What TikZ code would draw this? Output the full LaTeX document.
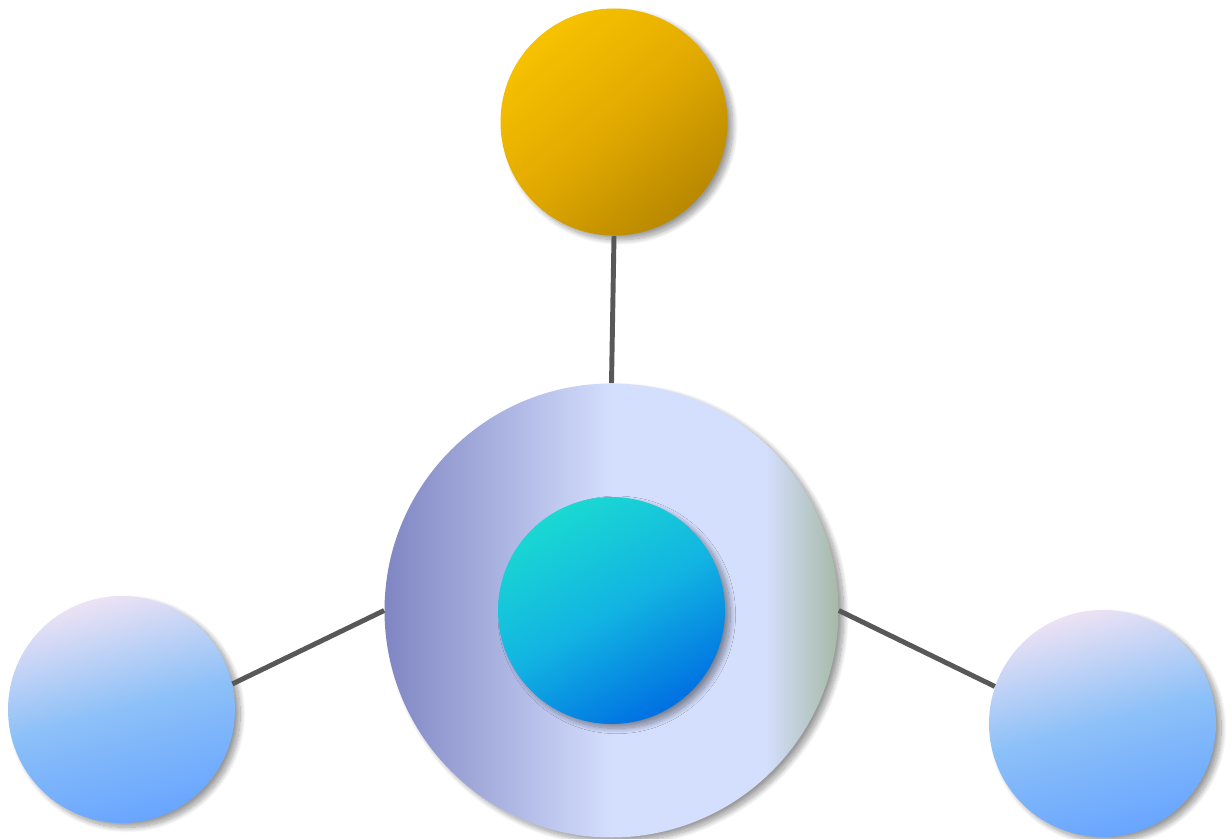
\documentclass[tikz,border=0pt]{standalone}
\usetikzlibrary{shadows.blur}

\definecolor{goldhi}{HTML}{F6C200}
\definecolor{goldmid}{HTML}{E2AA00}
\definecolor{goldlo}{HTML}{B88800}
\definecolor{ringleft}{HTML}{7F86C3}
\definecolor{ringmid}{HTML}{D4DEFD}
\definecolor{ringright}{HTML}{A6B9A6}
\definecolor{corehi}{HTML}{1AD8D2}
\definecolor{coremid}{HTML}{12B4E2}
\definecolor{corelo}{HTML}{0070E2}
\definecolor{skyhi}{HTML}{ECE2F4}
\definecolor{skymid}{HTML}{8CC0F8}
\definecolor{skylo}{HTML}{68A5FF}
\definecolor{linkgray}{HTML}{585858}

\pgfdeclarehorizontalshading{ringshade}{100bp}{color(0bp)=(ringleft); color(25bp)=(ringleft); color(50bp)=(ringmid); color(67bp)=(ringmid); color(75bp)=(ringright); color(100bp)=(ringright)}

\tikzset{
  ball/.style={circle, inner sep=0pt, minimum size=4.54cm,
    blur shadow={shadow xshift=3pt, shadow yshift=-2.5pt, shadow blur radius=3pt, shadow blur steps=16, shadow opacity=40}},
  sky/.style={ball, top color=skyhi, bottom color=skylo, middle color=skymid, shading angle=15},
  link/.style={draw=linkgray, line width=2.8pt},
}

\begin{document}
\begin{tikzpicture}
    \useasboundingbox (0,0) rectangle (24.62,16.76);
    % circles
    \node[ball, top color=goldhi, bottom color=goldlo, middle color=goldmid, shading angle=40] (gold) at (12.28,14.32) {};
    \node[ball, minimum size=9.08cm, shade, shading=ringshade] (hub) at (12.23,4.55) {};
    \node[ball, top color=corehi, bottom color=corelo, middle color=coremid, shading angle=30] (core) at (hub.center) {};
    \node[sky] (west) at (2.43,2.57) {};
    \node[sky] (east) at (22.05,2.29) {};
    % links
    \draw[link] (gold.south) -- (hub.north);
    \draw[link] (west.13) -- (hub.west);
    \draw[link] (hub.east) -- (east.161);
\end{tikzpicture}
\end{document}
